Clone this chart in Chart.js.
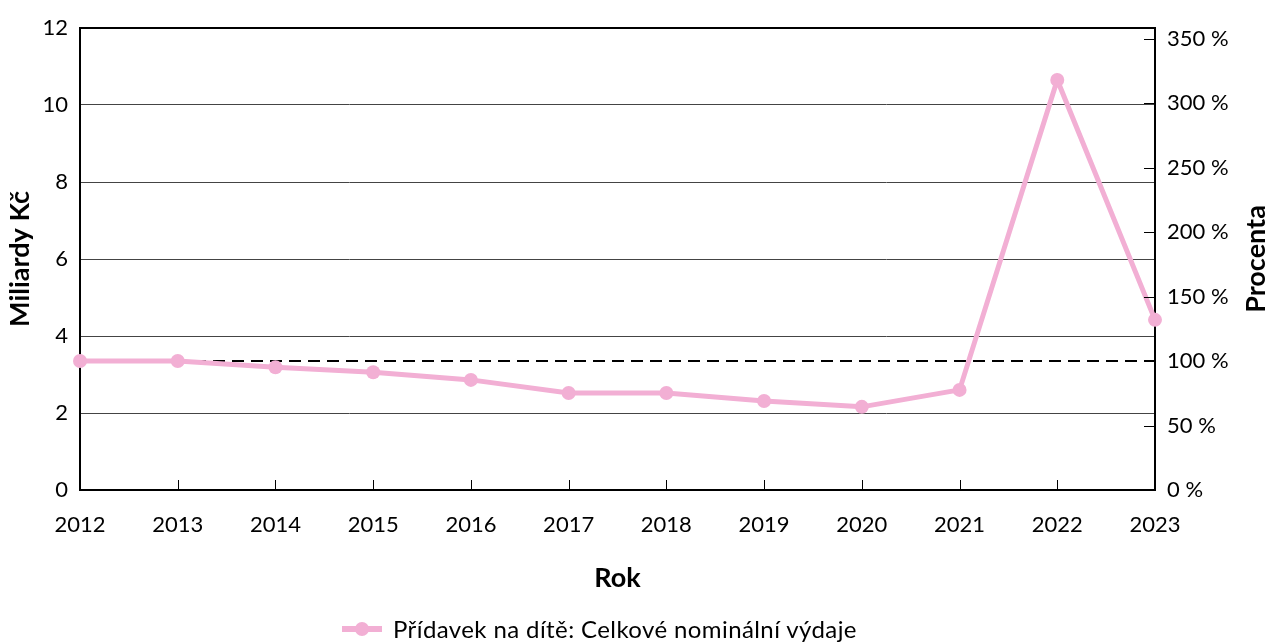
<!DOCTYPE html>
<html><head><meta charset="utf-8">
<script src="https://cdn.jsdelivr.net/npm/chart.js@4.4.1/dist/chart.umd.min.js"></script>
<style>
html,body{margin:0;padding:0;background:#fff;}
#wrap{position:relative;width:1266px;height:642px;overflow:hidden;}
#c{position:absolute;left:0;top:0;}
#legend{position:absolute;left:342px;top:615px;height:27px;display:flex;justify-content:flex-start;align-items:center;font:24px Lato, sans-serif;letter-spacing:0.4px;color:#000;white-space:nowrap;}
#legend .mk{position:relative;display:inline-block;width:40px;height:14px;margin-right:11px;}
#legend .mk .ln{position:absolute;left:0;top:4px;width:40px;height:6px;background:#F2AFD4;}
#legend .mk .dt{position:absolute;left:13px;top:0;width:14px;height:14px;border-radius:50%;background:#F2AFD4;}
</style></head>
<body>
<div id="wrap">
<canvas id="c" width="1266" height="642"></canvas>
<div id="legend"><span class="mk"><span class="ln"></span><span class="dt"></span></span><span>Přídavek na dítě: Celkové nominální výdaje</span></div>
</div>
<script>
const years = ['2012','2013','2014','2015','2016','2017','2018','2019','2020','2021','2022','2023'];
const spending = [3.35, 3.35, 3.19, 3.06, 2.86, 2.52, 2.52, 2.31, 2.16, 2.60, 10.65, 4.42];
const referencePct = [100,100,100,100,100,100,100,100,100,100,100,100];
const leftTicks = [0, 2, 4, 6, 8, 10, 12];
const pctTicks = [0, 50, 100, 150, 200, 250, 300, 350];
const leftMax = 12;
const baseValue = spending[0];
const rightMax = leftMax / baseValue * 100;

const PINK = '#F2AFD4';
const FONT = 'Lato, sans-serif';
const TITLE_SIZE = 27;

const innerTicks = {
  id: 'innerTicks',
  afterDraw(chart) {
    const ctx = chart.ctx, a = chart.chartArea;
    const x = chart.scales.x, y1 = chart.scales.y1;
    ctx.save();
    ctx.strokeStyle = '#000';
    ctx.lineWidth = 1;
    ctx.beginPath();
    years.forEach((yr, i) => {
      const px = Math.round(x.getPixelForValue(i)) + 0.5;
      ctx.moveTo(px, a.bottom);
      ctx.lineTo(px, a.bottom - 10);
    });
    pctTicks.forEach(v => {
      const py = Math.round(y1.getPixelForValue(v)) + 0.5;
      ctx.moveTo(a.right - 11, py);
      ctx.lineTo(a.right, py);
    });
    ctx.stroke();
    // right axis title (reads bottom-to-top)
    ctx.fillStyle = '#000';
    ctx.font = 'bold ' + TITLE_SIZE + 'px ' + FONT;
    ctx.textAlign = 'center';
    ctx.textBaseline = 'middle';
    ctx.translate(1256, (a.top + a.bottom) / 2);
    ctx.rotate(-Math.PI / 2);
    ctx.fillText('Procenta', 0, 0);
    ctx.restore();
  }
};

new Chart(document.getElementById('c'), {
  type: 'line',
  data: {
    labels: years,
    datasets: [
      {
        label: 'Přídavek na dítě: Celkové nominální výdaje',
        data: spending,
        yAxisID: 'y',
        borderColor: PINK,
        backgroundColor: PINK,
        borderWidth: 5,
        pointRadius: 7,
        pointHoverRadius: 7,
        pointBackgroundColor: PINK,
        pointBorderWidth: 0,
        tension: 0
      },
      {
        label: '100 %',
        data: referencePct,
        yAxisID: 'y1',
        borderColor: '#000',
        borderWidth: 2,
        borderDash: [12, 7],
        pointRadius: 0,
        tension: 0
      }
    ]
  },
  options: {
    responsive: false,
    animation: false,
    events: [],
    layout: { padding: { top: 28, bottom: 37, left: 0, right: 0 } },
    plugins: { legend: { display: false }, tooltip: { enabled: false } },
    scales: {
      x: {
        type: 'category',
        offset: false,
        afterFit(s) { s.height = 115; },
        grid: { display: true, drawOnChartArea: false, drawTicks: false },
        border: { display: true, color: '#000', width: 2 },
        ticks: { color: '#000', font: { family: FONT, size: 22 }, padding: 22, maxRotation: 0, autoSkip: false },
        title: { display: true, text: 'Rok', color: '#000', font: { family: FONT, size: TITLE_SIZE, weight: 'bold' }, padding: { top: 0, bottom: 11 } }
      },
      y: {
        position: 'left',
        min: 0, max: leftMax,
        afterFit(s) { s.width = 80; },
        afterBuildTicks(s) { s.ticks = leftTicks.map(v => ({ value: v })); },
        grid: {
          drawTicks: false,
          color: c => (c.tick && c.tick.value === leftMax) ? '#000' : '#444',
          lineWidth: c => (c.tick && c.tick.value === leftMax) ? 2 : 1
        },
        border: { display: true, color: '#000', width: 2 },
        ticks: { color: '#000', font: { family: FONT, size: 22 }, padding: 12 },
        title: { display: true, text: 'Miliardy Kč', color: '#000', font: { family: FONT, size: TITLE_SIZE, weight: 'bold' }, padding: { top: 4, bottom: 0 } }
      },
      y1: {
        position: 'right',
        min: 0, max: rightMax,
        afterFit(s) { s.width = 111; },
        afterBuildTicks(s) { s.ticks = pctTicks.map(v => ({ value: v })); },
        grid: { drawOnChartArea: false, drawTicks: false },
        border: { display: true, color: '#000', width: 2 },
        ticks: { color: '#000', font: { family: FONT, size: 22 }, padding: 12, callback: v => v + ' %' }
      }
    }
  },
  plugins: [innerTicks]
});
</script>
</body></html>
